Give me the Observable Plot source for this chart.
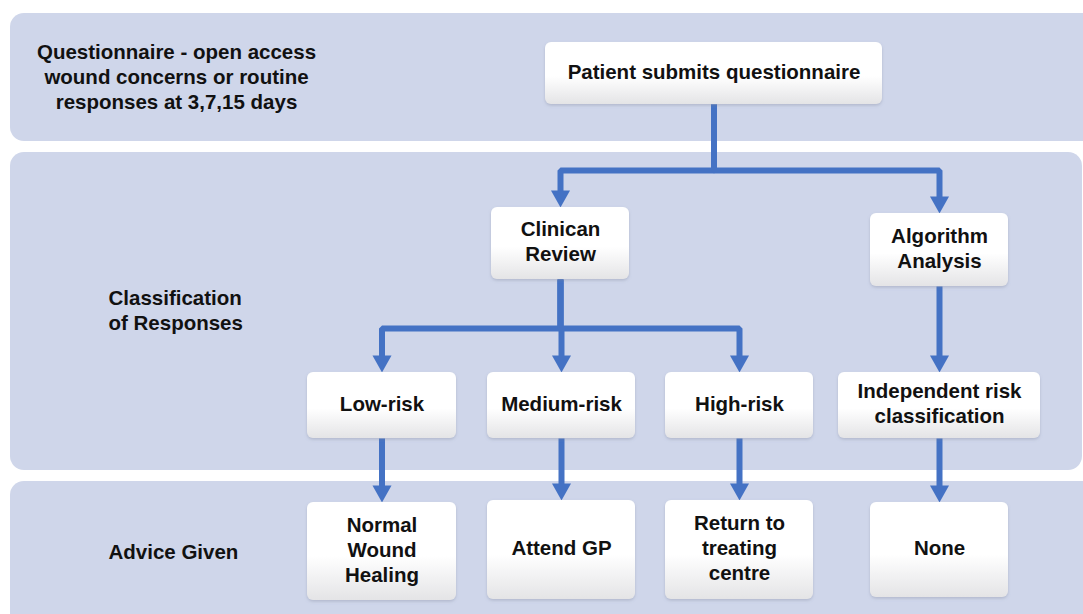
<!DOCTYPE html>
<html><head><meta charset="utf-8">
<script src="https://cdn.jsdelivr.net/npm/d3@7"></script>
<script src="https://cdn.jsdelivr.net/npm/@observablehq/plot@0.6"></script>
<style>html,body{margin:0;padding:0;background:#fff;} svg{display:block}</style>
</head><body><div id="chart"></div>
<script>
// ---- content ----
const bandIds = ["questionnaire", "classification", "advice"];
const bandLabels = [
  "Questionnaire - open access\nwound concerns or routine\nresponses at 3,7,15 days",
  "Classification\nof Responses",
  "Advice Given"
];
const nodeIds = ["patient","clinician","algorithm","low","medium","high","independent","normal","gp","return","none"];
const nodeLabels = [
  "Patient submits questionnaire", "Clinican\nReview", "Algorithm\nAnalysis",
  "Low-risk", "Medium-risk", "High-risk", "Independent risk\nclassification",
  "Normal\nWound\nHealing", "Attend GP", "Return to\ntreating\ncentre", "None"
];
const edgeFrom = ["patient","patient","clinician","clinician","clinician","algorithm","low","medium","high","independent"];
const edgeTo   = ["clinician","algorithm","low","medium","high","independent","normal","gp","return","none"];

// ---- layout (pixels) ----
const bandLeft   = [10, 10, 10];
const bandRight  = [1110, 1082, 1110];
const bandTop    = [13, 152, 481];
const bandBottom = [141, 470, 650];
const bandLabelX = [176, 108, 108];
const bandLabelY = [78, 312, 553];
const nodeLeft   = [545, 491, 870, 307, 487, 665, 838, 307, 487, 665, 870];
const nodeRight  = [882, 629, 1008, 456, 635, 813, 1040, 456, 635, 813, 1008];
const nodeTop    = [42, 207, 213, 372, 372, 372, 372, 502, 500, 500, 502];
const nodeBottom = [104, 279, 286, 438, 438, 438, 438, 600, 599, 599, 597];
const edgeElbowY = [170, 170, 328, 328, 328, 330, 470, 470, 470, 470];

// ---- build tables ----
const bands = bandIds.map((id, i) => ({id, label: bandLabels[i], x1: bandLeft[i], x2: bandRight[i], y1: bandTop[i], y2: bandBottom[i], lx: bandLabelX[i], ly: bandLabelY[i], centered: i === 0}));
const nodes = nodeIds.map((id, i) => ({id, label: nodeLabels[i], x1: nodeLeft[i], x2: nodeRight[i], y1: nodeTop[i], y2: nodeBottom[i], cx: (nodeLeft[i] + nodeRight[i]) / 2, cy: (nodeTop[i] + nodeBottom[i]) / 2}));
const byId = new Map(nodes.map(d => [d.id, d]));
const edgePoints = [];
const heads = [];
edgeFrom.forEach((f, i) => {
  const s = byId.get(f), t = byId.get(edgeTo[i]);
  const ey = edgeElbowY[i];
  const pts = [[s.cx, s.y2], [s.cx, ey], [t.cx, ey], [t.cx, t.y1 - 13]];
  pts.forEach(([x, y]) => edgePoints.push({edge: i, x, y}));
  heads.push({x: t.cx, y: t.y1});
});

const arrowHead = {
  draw(ctx) { ctx.moveTo(-9.5, -17); ctx.lineTo(9.5, -17); ctx.lineTo(0, 0); ctx.closePath(); }
};

const BLUE = "#4472c4";
const BAND = "#cfd6ea";
const FONT = "Liberation Sans, Arial, Helvetica, sans-serif";
const textStyle = {fontSize: 20.5, fontWeight: "bold", lineHeight: 1.22, fill: "#111", lineAnchor: "middle", dy: -3};

const chart = Plot.plot({
  width: 1083,
  height: 614,
  margin: 0,
  style: {background: "#ffffff", fontFamily: FONT},
  x: {domain: [0, 1083], range: [0, 1083], axis: null},
  y: {domain: [0, 614], range: [0, 614], axis: null},
  marks: [
    Plot.rect(bands, {x1: "x1", x2: "x2", y1: "y1", y2: "y2", fill: BAND, rx: 14}),
    Plot.line(edgePoints, {x: "x", y: "y", z: "edge", stroke: BLUE, strokeWidth: 6, strokeLinejoin: "miter", strokeLinecap: "butt", curve: "linear"}),
    Plot.dot(heads, {x: "x", y: "y", symbol: arrowHead, fill: BLUE, stroke: "none", r: 5}),
    Plot.rect(nodes, {x1: "x1", x2: "x2", y1: "y1", y2: "y2", fill: "url(#boxgrad)", rx: 6}),
    Plot.text(nodes, {x: "cx", y: "cy", text: "label", ...textStyle, textAnchor: "middle"}),
    Plot.text(bands.filter(d => d.centered), {x: "lx", y: "ly", text: "label", ...textStyle, textAnchor: "middle"}),
    Plot.text(bands.filter(d => !d.centered), {x: "lx", y: "ly", text: "label", ...textStyle, textAnchor: "start"})
  ]
});

// gradient + soft shadow for the boxes
const svg = d3.select(chart);
const defs = svg.insert("defs", ":first-child");
const g = defs.append("linearGradient").attr("id", "boxgrad").attr("x1", 0).attr("y1", 0).attr("x2", 0).attr("y2", 1);
g.append("stop").attr("offset", "0%").attr("stop-color", "#ffffff");
g.append("stop").attr("offset", "55%").attr("stop-color", "#ffffff");
g.append("stop").attr("offset", "100%").attr("stop-color", "#e4e4e6");
const f = defs.append("filter").attr("id", "boxshadow").attr("x", "-10%").attr("y", "-10%").attr("width", "120%").attr("height", "130%");
f.append("feDropShadow").attr("dx", 0).attr("dy", 1.5).attr("stdDeviation", 1.5).attr("flood-color", "#7a8096").attr("flood-opacity", 0.35);
const rectGroups = chart.querySelectorAll('g[aria-label="rect"]');
if (rectGroups.length > 1) rectGroups[1].setAttribute("filter", "url(#boxshadow)");

document.getElementById("chart").appendChild(chart);
</script>
</body></html>
